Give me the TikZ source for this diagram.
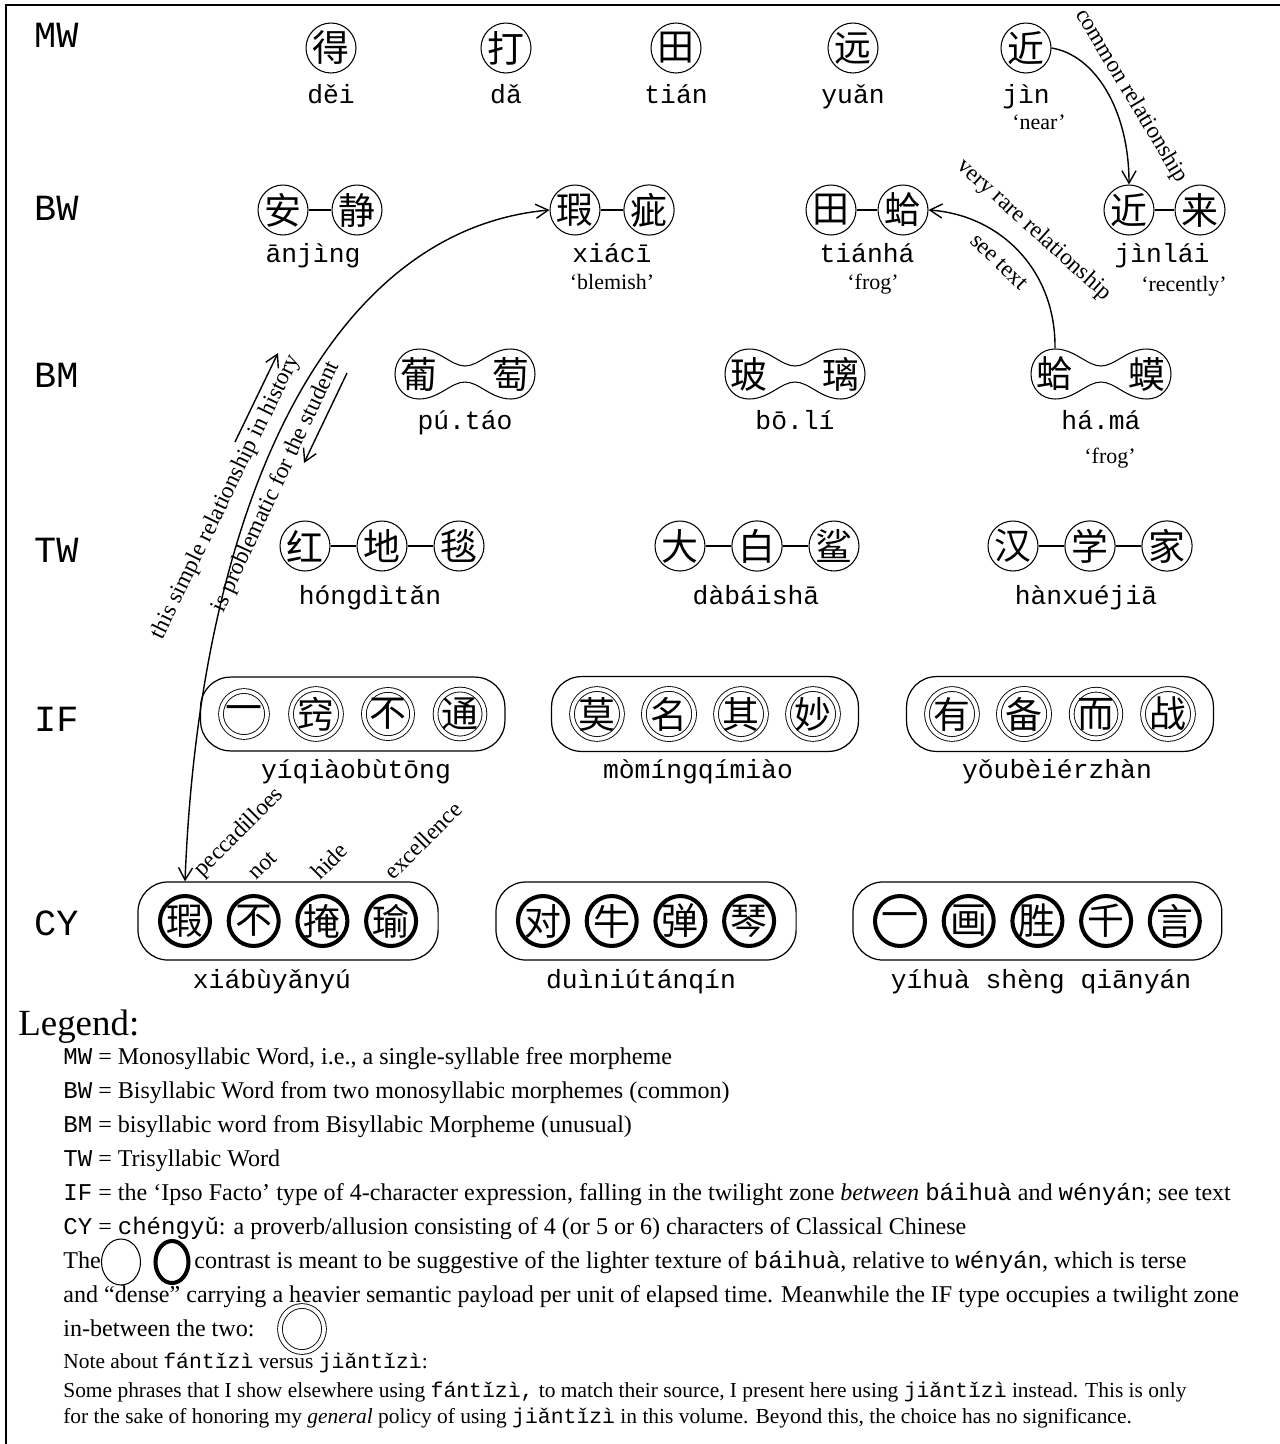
\documentclass[tikz,border=0pt]{standalone}
\usepackage{fontspec}
\setmainfont{Liberation Serif}
\setmonofont{Liberation Mono}
\newfontfamily\cjk{Noto Sans CJK SC}
\usetikzlibrary{fit}
\usetikzlibrary{arrows.meta}
\usetikzlibrary{shapes.geometric}

% outline of a bisyllabic morpheme: two lobes with a narrow waist (centre x, centre y)
\newcommand{\peanut}[2]{%
    \draw[line width=.6pt] (#1, #2-8) .. controls (#1-14, #2-8) and (#1-26, #2-25) .. (#1-46, #2-25)
        .. controls (#1-60, #2-25) and (#1-70, #2-14) .. (#1-70, #2)
        .. controls (#1-70, #2+14) and (#1-60, #2+25) .. (#1-46, #2+25)
        .. controls (#1-26, #2+25) and (#1-14, #2+8) .. (#1, #2+8)
        .. controls (#1+14, #2+8) and (#1+26, #2+25) .. (#1+46, #2+25)
        .. controls (#1+60, #2+25) and (#1+70, #2+14) .. (#1+70, #2)
        .. controls (#1+70, #2-14) and (#1+60, #2-25) .. (#1+46, #2-25)
        .. controls (#1+26, #2-25) and (#1+14, #2-8) .. cycle;}

\begin{document}
\begin{tikzpicture}[
            x=0.02cm, y=-0.02cm,
            >={Straight Barb[length=7pt, width=8pt]},
            hz/.style={circle, draw=black, line width=.6pt, minimum size=1cm, inner sep=0pt,
                font=\cjk\fontsize{21}{21}\selectfont},
            hzif/.style={hz, double, double distance=2.2pt, line width=.5pt, minimum size=.92cm},
            hzcy/.style={hz, line width=2.3pt},
            hzbm/.style={hz, draw=none},
            bar/.style={line width=.6pt},
            capsule/.style={draw=black, line width=.7pt, rounded corners=.6cm, inner xsep=.4cm, inner ysep=.24cm},
            py/.style={font=\ttfamily\fontsize{15}{15}\selectfont, anchor=base},
            row/.style={font=\ttfamily\fontsize{21}{21}\selectfont, anchor=west},
            gloss/.style={font=\fontsize{12.5}{12.5}\selectfont, anchor=base},
            annot/.style={font=\fontsize{13.3}{13.3}\selectfont, inner sep=1pt},
            rel/.style={line width=.8pt, ->},
            lgd/.style={font=\fontsize{13.7}{13.7}\selectfont, anchor=base west, inner sep=0pt},
            notetxt/.style={font=\fontsize{12.2}{12.2}\selectfont, anchor=base west, inner sep=0pt},
        ]
            \useasboundingbox (0, 0) rectangle (1279, 1444);
            \draw[line width=1.7pt] (6, 1460) -- (6, 5) -- (1290, 5);

            % row names
            \foreach \t/\y in {MW/35, BW/208, BM/375, TW/550, IF/719, CY/923}
                \node[row] (row\t) at (28, \y) {\t};

            % monosyllabic words
            \foreach \c/\x/\p [count=\i] in {得/331/děi, 打/506/dǎ, 田/676/tián, 远/853/yuǎn, 近/1026/jìn}{
                \node[hz] (mw\i) at (\x, 48) {\c};
                \node[py] (mwpy\i) at (\x, 103) {\p};
            }
            \node[gloss] (mwgl5) at (1039, 129) {‘near’};

            % bisyllabic words: two circles joined by a bar
            \foreach \a/\b/\xa/\xb/\p/\xp [count=\i] in {安/静/283/357/ānjìng/313, 瑕/疵/575/649/xiácī/612,
                    田/蛤/831/903/tiánhá/867, 近/来/1129/1200/jìnlái/1162}{
                \node[hz] (bwa\i) at (\xa, 210) {\a};
                \node[hz] (bwb\i) at (\xb, 210) {\b};
                \draw[bar] (bwa\i) -- (bwb\i);
                \node[py] (bwpy\i) at (\xp, 262) {\p};
            }
            \node[gloss] (bwgl2) at (612, 289) {‘blemish’};
            \node[gloss] (bwgl3) at (873, 289) {‘frog’};
            \node[gloss] (bwgl4) at (1184, 291) {‘recently’};

            % bisyllabic morphemes
            \foreach \a/\b/\x/\p [count=\i] in {葡/萄/465/pú.táo, 玻/璃/795/bō.lí, 蛤/蟆/1101/há.má}{
                \node[hzbm] (bma\i) at (\x-46, 374) {\a};
                \node[hzbm] (bmb\i) at (\x+46, 374) {\b};
                \peanut{\x}{374}
                \node[py] (bmpy\i) at (\x, 429) {\p};
            }
            \node[gloss] (bmgl3) at (1110, 463) {‘frog’};

            % trisyllabic words
            \foreach \a/\b/\c/\x/\p/\xp [count=\i] in {红/地/毯/382/hóngdìtǎn/370, 大/白/鲨/757/dàbáishā/756,
                    汉/学/家/1090/hànxuéjiā/1086}{
                \node[hz] (twa\i) at (\x-77, 546) {\a};
                \node[hz] (twb\i) at (\x, 546) {\b};
                \node[hz] (twc\i) at (\x+77, 546) {\c};
                \draw[bar] (twa\i) -- (twb\i) (twb\i) -- (twc\i);
                \node[py] (twpy\i) at (\xp, 604) {\p};
            }

            % ipso facto expressions: double rings in a capsule
            \foreach \cs/\x/\p/\xp [count=\i] in {{一,窍,不,通}/244/yíqiàobùtōng/356,
                    {莫,名,其,妙}/597/mòmíngqímiào/698, {有,备,而,战}/952/yǒubèiérzhàn/1057}{
                \foreach \c [count=\j from 0] in \cs
                    \node[hzif] (if\i-\j) at (\x+72*\j, 714) {\c};
                \node[capsule, fit=(if\i-0) (if\i-3)] (ifbox\i) {};
                \node[py] (ifpy\i) at (\xp, 778) {\p};
            }

            % chengyu: heavy rings in a capsule
            \foreach \cs/\x/\n/\p/\xp [count=\i] in {{瑕,不,掩,瑜}/185/3/xiábùyǎnyú/272,
                    {对,牛,弹,琴}/543/3/duìniútánqín/641, {一,画,胜,千,言}/900/4/yíhuà shèng qiānyán/1041}{
                \foreach \c [count=\j from 0] in \cs
                    \node[hzcy] (cy\i-\j) at (\x+68.7*\j, 921) {\c};
                \node[capsule, fit=(cy\i-0) (cy\i-\n)] (cybox\i) {};
                \node[py] (cypy\i) at (\xp, 988) {\p};
            }
            \foreach \w/\x [count=\i] in {peccadilloes/206, not/257, hide/321, excellence/394}
                \node[annot, rotate=45, anchor=south west] (cygl\i) at (\x, 884) {\w};

            % relationships
            \draw[rel] (mw5.east) .. controls (1095, 55) and (1129, 110) .. (bwa4.north);
            \node[annot, rotate=-59] (common) at (1131, 96) {common relationship};

            \draw[rel] (bma3.north) .. controls (1056, 270) and (1000, 215) .. (bwb3.east);
            \node[annot, rotate=-42] (rare) at (1034, 230) {very rare relationship};
            \node[annot, rotate=-44] (seetext) at (999, 262) {see text};

            \draw[rel, <->] (cy1-0 |- cybox1.north) .. controls (200, 500) and (330, 230) .. (bwa2.west);
            \coordinate (upa) at (235, 442);
            \coordinate (upb) at (278, 353);
            \draw[rel] (upa) -- (upb);
            \coordinate (dna) at (347, 373);
            \coordinate (dnb) at (304, 463);
            \draw[rel] (dna) -- (dnb);
            \node[annot, rotate=64] (hist) at (226, 497) {this simple relationship in history};
            \node[annot, rotate=65] (stud) at (276, 487) {is problematic for the student};

            % legend
            \node[font=\fontsize{21}{21}\selectfont, anchor=base west, inner sep=0pt] (lgtitle) at (18, 1035) {Legend:};
            \node[lgd] (lg1) at (63, 1064) {\texttt{MW} = Monosyllabic Word, i.e., a single-syllable free morpheme};
            \node[lgd] (lg2) at (63, 1098) {\texttt{BW} = Bisyllabic Word from two monosyllabic morphemes (common)};
            \node[lgd] (lg3) at (63, 1132) {\texttt{BM} = bisyllabic word from Bisyllabic Morpheme (unusual)};
            \node[lgd] (lg4) at (63, 1166) {\texttt{TW} = Trisyllabic Word};
            \node[lgd] (lg5) at (63, 1200) {\texttt{IF} = the ‘Ipso Facto’ type of 4-character expression, falling in the twilight zone \emph{between} \texttt{báihuà} and \texttt{wényán}; see text};
            \node[lgd] (lg6) at (63, 1234) {\texttt{CY} = \texttt{chéngyǔ}: a proverb/allusion consisting of 4 (or 5 or 6) characters of Classical Chinese};
            \node[lgd] (lg7) at (63, 1268) {The};
            \node[draw, ellipse, line width=.6pt, minimum width=.78cm, minimum height=.92cm, inner sep=0pt] (lite) at (121, 1262) {};
            \node[draw, ellipse, line width=2.3pt, minimum width=.66cm, minimum height=.84cm, inner sep=0pt] (dense) at (172, 1262) {};
            \node[lgd] (lg7b) at (194, 1268) {contrast is meant to be suggestive of the lighter texture of \texttt{báihuà}, relative to \texttt{wényán}, which is terse};
            \node[lgd] (lg8) at (63, 1302) {and “dense” carrying a heavier semantic payload per unit of elapsed time. Meanwhile the IF type occupies a twilight zone};
            \node[lgd] (lg9) at (63, 1336) {in-between the two:};
            \node[draw, ellipse, double, double distance=2.2pt, line width=.5pt, minimum width=.88cm, minimum height=.92cm, inner sep=0pt] (midring) at (302, 1329) {};
            \node[notetxt] (lg10) at (63, 1368) {Note about \texttt{fántǐzì} versus \texttt{jiǎntǐzì}:};
            \node[notetxt] (lg11) at (63, 1397) {Some phrases that I show elsewhere using \texttt{fántǐzì,} to match their source, I present here using \texttt{jiǎntǐzì} instead. This is only};
            \node[notetxt] (lg12) at (63, 1423) {for the sake of honoring my \emph{general} policy of using \texttt{jiǎntǐzì} in this volume. Beyond this, the choice has no significance.};
        \end{tikzpicture}
\end{document}
